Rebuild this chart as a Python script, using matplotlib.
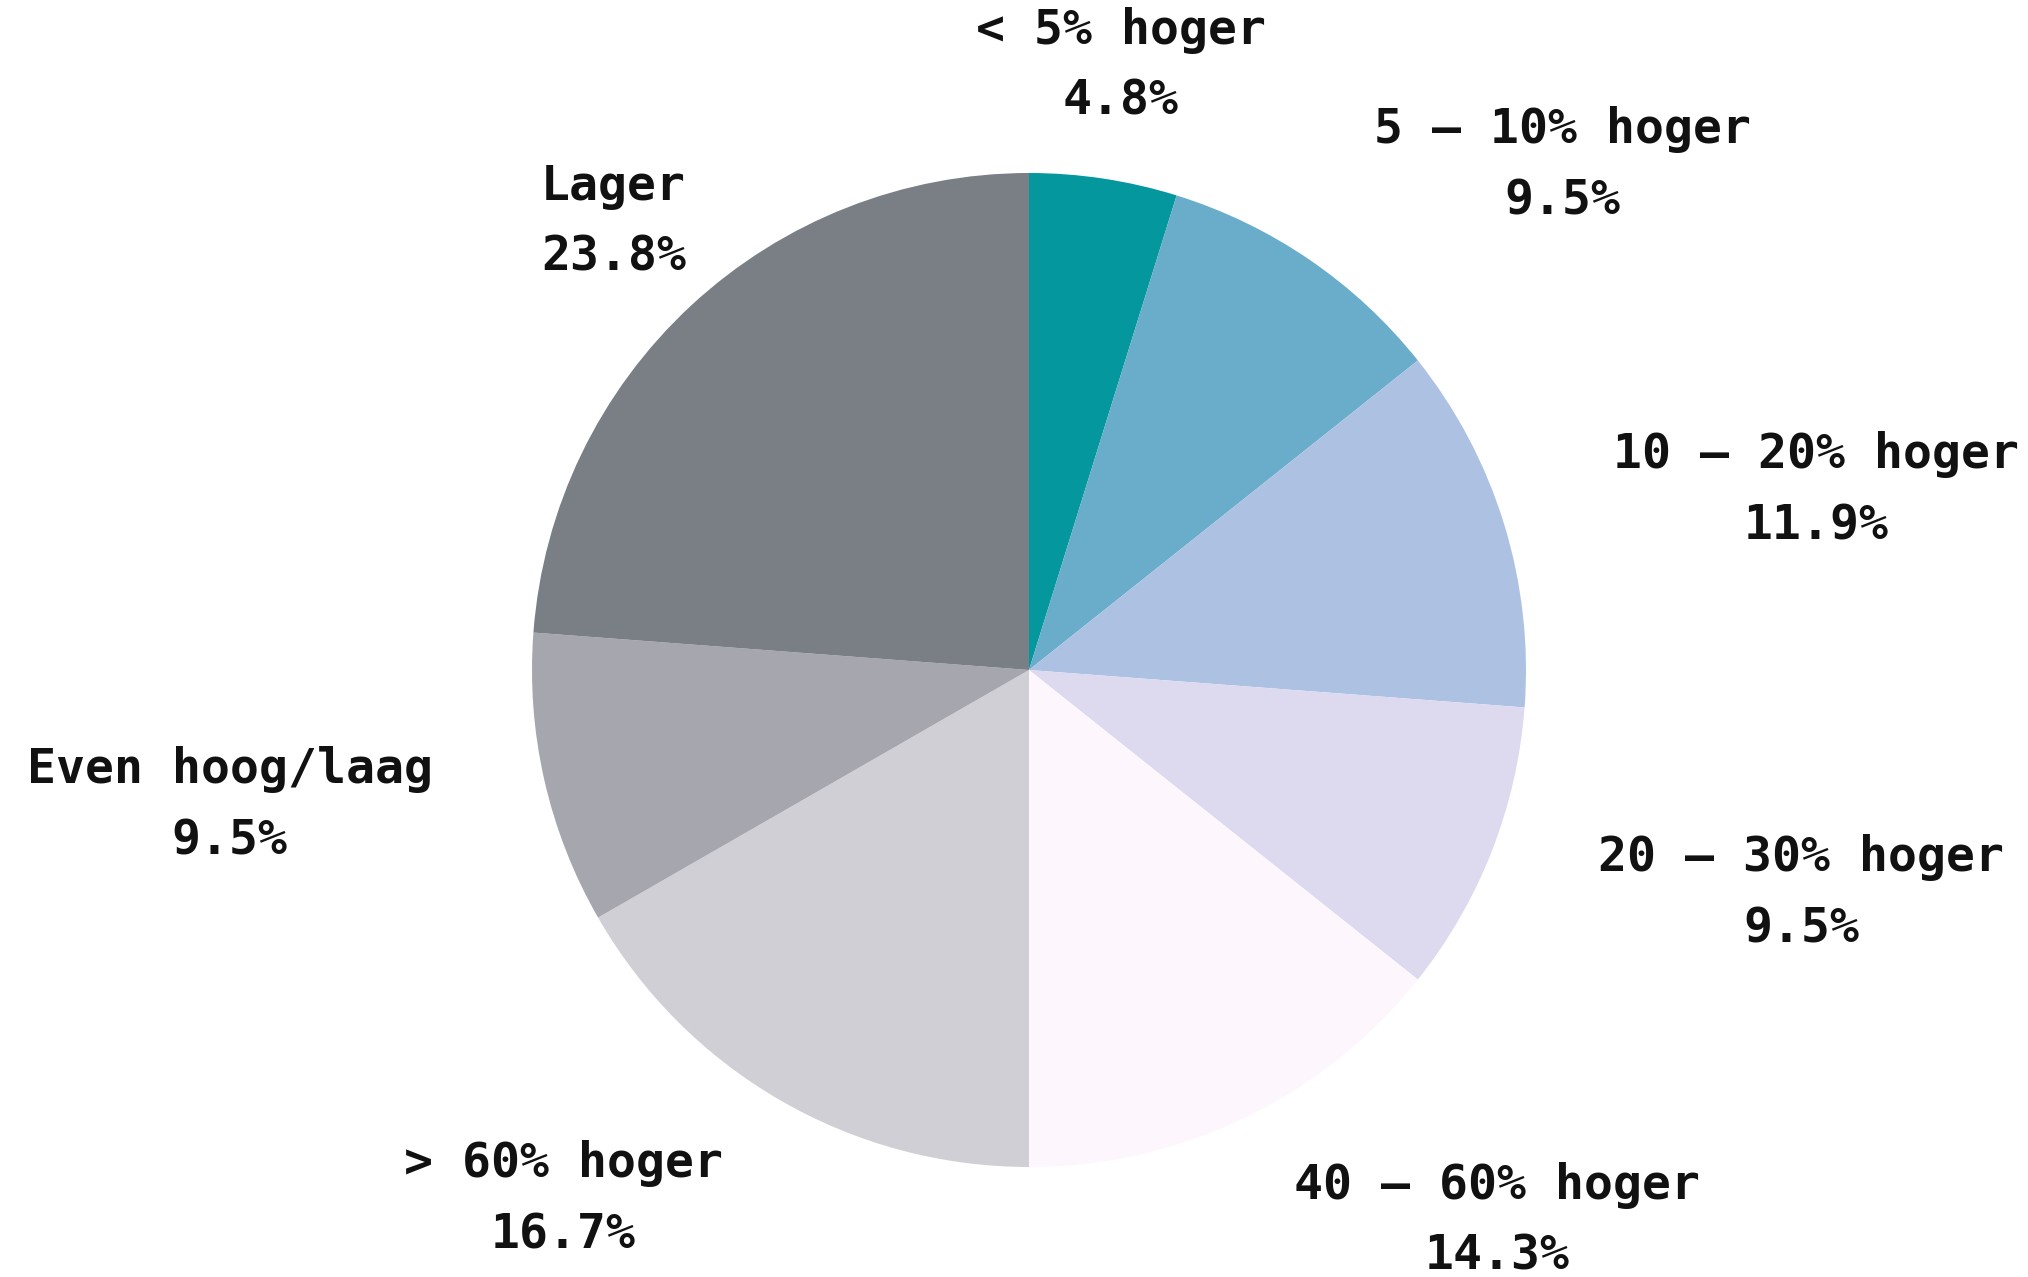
import matplotlib
matplotlib.use("Agg")
import matplotlib.pyplot as plt
import numpy as np

categories = ["< 5% hoger", "5 – 10% hoger", "10 – 20% hoger", "20 – 30% hoger",
              "40 – 60% hoger", "> 60% hoger", "Even hoog/laag", "Lager"]
values = [4.8, 9.5, 11.9, 9.5, 14.3, 16.7, 9.5, 23.8]
colors = ["#05979e", "#69adcb", "#adc1e3", "#dddaf0", "#fdf7fd", "#d1cfd6", "#a5a6ae", "#7a7f86"]

W, H = 2028, 1277
fig = plt.figure(figsize=(W / 100, H / 100), dpi=100)
cx, cy, R = 1029, 670, 497
ax = fig.add_axes([(cx - R) / W, (H - cy - R) / H, 2 * R / W, 2 * R / H])

labels = [f"{c}\n{v:.1f}%" for c, v in zip(categories, values)]
wedges, texts = ax.pie(values, colors=colors, startangle=90, counterclock=False,
                       labels=labels, labeldistance=1.23,
                       wedgeprops=dict(linewidth=0),
                       textprops=dict(fontsize=34.7, fontweight="bold",
                                      family=["DejaVu Sans Mono"],
                                      color="#111111", linespacing=1.65,
                                      multialignment="center"))
for i in (0, 7):
    texts[i].set_horizontalalignment("center")
ax.set_xlim(-1, 1)
ax.set_ylim(-1, 1)
ax.set_aspect("equal")
ax.axis("off")
fig.savefig("out.png", dpi=100, facecolor="white")
